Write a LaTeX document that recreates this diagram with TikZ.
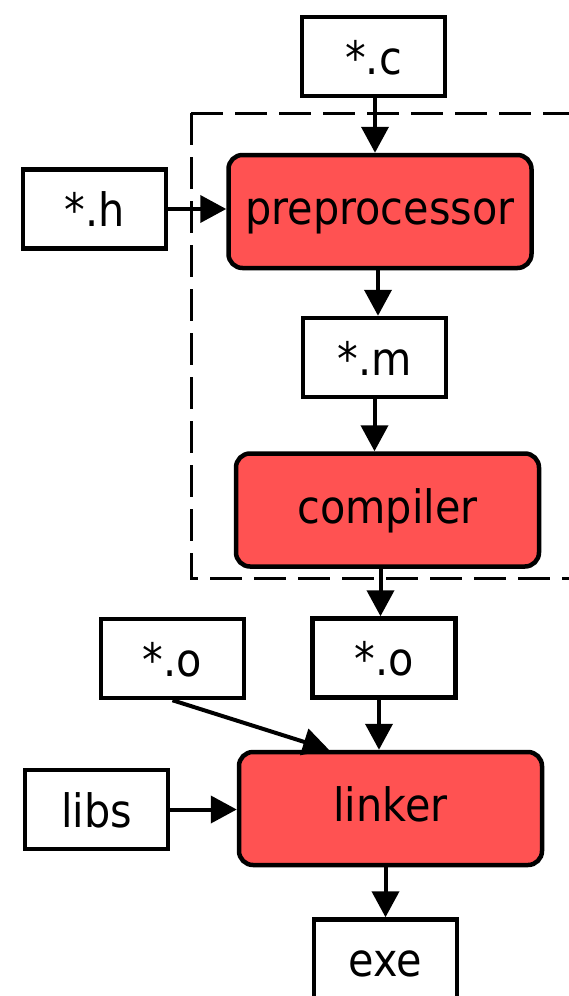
\documentclass[tikz,border=0pt]{standalone}
\usepackage{fontspec}
\setmainfont{DejaVu Sans}[FakeStretch=0.9]
\usetikzlibrary{arrows.meta,calc}
\definecolor{stagered}{RGB}{255,82,82}
\begin{document}
\begin{tikzpicture}[x=1pt,y=-1pt,
  file/.style={draw, line width=4.5pt, fill=white, minimum width=143pt,
    minimum height=79pt, inner sep=0pt, text height=35pt, text depth=0pt,
    font=\fontsize{46}{52}\selectfont},
  stage/.style={draw, line width=4.5pt, fill=stagered, rounded corners=14pt,
    minimum width=303pt, minimum height=113pt, inner sep=0pt,
    text height=35pt, text depth=9pt, font=\fontsize{46}{52}\selectfont},
  flow/.style={line width=4pt, -{Triangle[length=26pt,width=27pt]}},
  group/.style={line width=3pt, dash pattern=on 32pt off 12pt}]
\useasboundingbox (0,0) rectangle (568,996);

% boundary of the compiler front end
\draw[group] (191,113) -- (600,113);
\draw[group] (191,113) -- (191,578) -- (600,578);

% sources and intermediate files
\node[file] (c)    at (373.5,56.5) {*.c};
\node[file] (h)    at (94.5,209)   {*.h};
\node[file] (m)    at (374.5,357.5) {*.m};
\node[file] (oL)   at (172.5,658.5) {*.o};
\node[file] (oR)   at (384,658)    {*.o};
\node[file] (libs) at (96.5,809.5) {libs};
\node[file] (exe)  at (385.5,959) {exe};

% tool stages
\node[stage] (pre)  at (380,211.5) {preprocessor};
\node[stage] (comp) at (387.5,510) {compiler};
\node[stage] (lnk)  at (390.5,808.5) {linker};

% data flow
\draw[flow] ([xshift=1.5pt]c.south) -- ([xshift=1.5pt]c.south |- pre.north);
\draw[flow] ([xshift=-2pt]pre.south) -- ([xshift=-2pt]pre.south |- m.north);
\draw[flow] (m.south) -- (m.south |- comp.north);
\draw[flow] ([xshift=-7pt]comp.south) -- ([xshift=-7pt]comp.south |- oR.north);
\draw[flow] ([xshift=-5pt]oR.south) -- ([xshift=-5pt]oR.south |- lnk.north);
\draw[flow] (h.east) -- (h.east -| pre.west);
\draw[flow] (oL.south) -- ($(lnk.north west)!0.3!(lnk.north east)$);
\draw[flow] (libs.east) -- (libs.east -| lnk.west);
\draw[flow] (lnk.south -| exe.north) -- (exe.north);
\end{tikzpicture}
\end{document}
